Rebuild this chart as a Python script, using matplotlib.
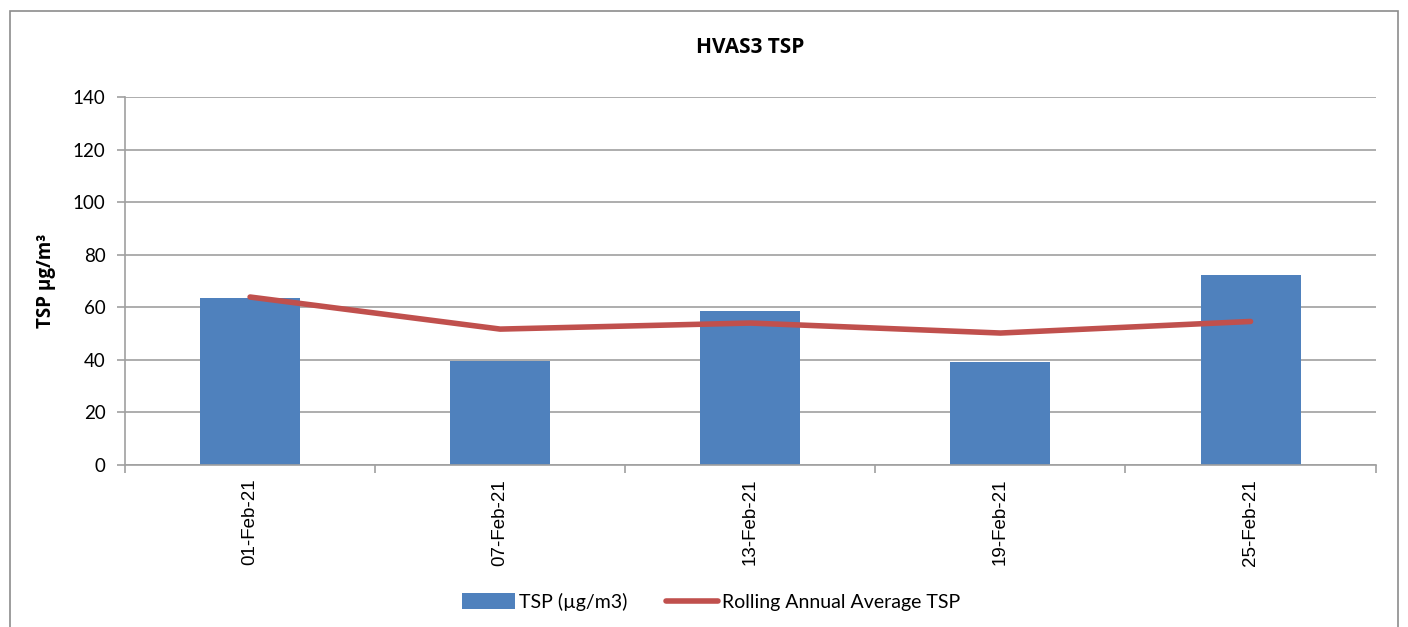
import matplotlib
matplotlib.use("Agg")
import matplotlib.pyplot as plt
from matplotlib.patches import Rectangle
import numpy as np

plt.rcParams['font.family'] = ['Lato', 'DejaVu Sans']

# data
dates = ["01-Feb-21", "07-Feb-21", "13-Feb-21", "19-Feb-21", "25-Feb-21"]
tsp = [63.7, 39.6, 58.6, 39.0, 72.3]
rollingAvg = [63.9, 51.7, 54.0, 50.2, 54.6]

barColor = "#4f81bd"
lineColor = "#c0504d"
gridColor = "#a0a0a0"

fig = plt.figure(figsize=(14.08, 6.27), dpi=100)
ax = fig.add_axes([0.0888, 0.2584, 0.8882, 0.5869])

x = np.arange(len(dates))
bars = ax.bar(x, tsp, width=0.4, color=barColor, zorder=2, label="TSP (\u00b5g/m3)")
line, = ax.plot(x, rollingAvg, color=lineColor, linewidth=4, solid_capstyle="round",
                zorder=3, label="Rolling Annual Average TSP")

ax.set_xlim(-0.5, len(dates) - 0.5)
ax.set_ylim(0, 140)
ax.set_yticks(range(0, 141, 20))
ax.yaxis.grid(True, color=gridColor, linewidth=1.2, zorder=0)
ax.set_axisbelow(True)

# category ticks between bars, labels under bar centres
ax.set_xticks(np.arange(-0.5, len(dates), 1.0))
ax.set_xticklabels([])
ax.set_xticks(x, minor=True)
ax.set_xticklabels(dates, minor=True, rotation=90, fontsize=13.5,
                   family=['Liberation Sans', 'DejaVu Sans'])
ax.tick_params(axis="x", which="minor", length=0, pad=10)
ax.tick_params(axis="x", which="major", length=6, color=gridColor, width=1.2)
ax.tick_params(axis="y", length=6, color=gridColor, width=1.2, labelsize=13.5, pad=8)

for side in ["top", "right"]:
    ax.spines[side].set_visible(False)
for side in ["left", "bottom"]:
    ax.spines[side].set_color(gridColor)
    ax.spines[side].set_linewidth(1.2)

ax.set_ylabel("TSP \u00b5g/m\u00b3", fontsize=13.5, fontweight="bold", labelpad=12,
              family=['Open Sans', 'DejaVu Sans'])
fig.text(0.5325, 0.925, "HVAS3 TSP", ha="center", va="center", fontsize=15,
         fontweight="bold", family=['Open Sans', 'DejaVu Sans'])

fig.legend([bars, line], ["TSP (\u00b5g/m3)", "Rolling Annual Average TSP"],
           loc="center", bbox_to_anchor=(0.5053, 0.04), ncol=2, frameon=False,
           fontsize=14, handlelength=2.7, handleheight=0.9, columnspacing=2.0,
           handletextpad=0.2)

# outer chart border
fig.patches.append(Rectangle((0.007, -0.02), 0.986, 1.003, transform=fig.transFigure,
                             fill=False, edgecolor="#8c8c8c", linewidth=1.2))

fig.savefig("out.png", dpi=100)
